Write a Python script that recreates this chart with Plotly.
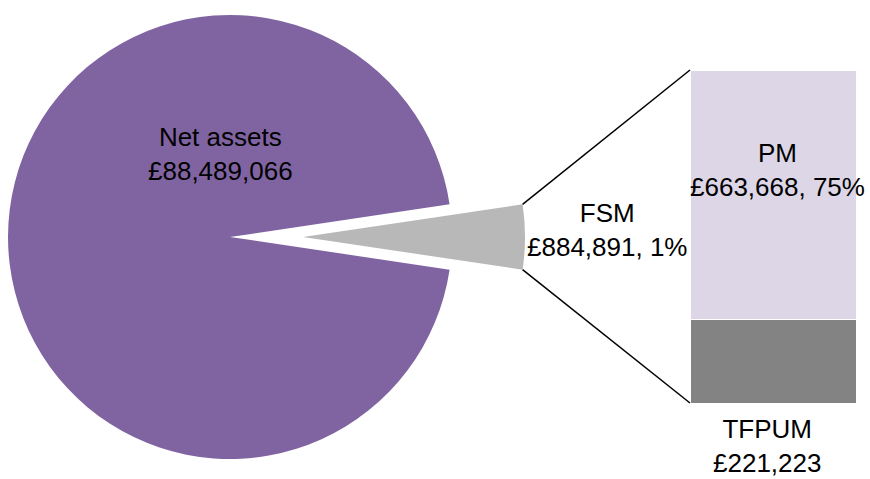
import math
import plotly.graph_objects as go

# ---- data ----
pie_labels = ["FSM", "Net assets"]
pie_values = [884891, 88489066]          # values shown in labels
pie_drawn_share = [4.7, 95.3]            # slice sizes as drawn in the picture (%)
fsm_pct_label = "1%"
bar_labels = ["TFPUM", "PM"]
bar_values = [221223, 663668]
bar_pct_labels = ["", "75%"]

# ---- layout constants ----
W, H = 870, 479
CX, CY, R = 230, 237, 222
EXPLODE = 73
FONT = dict(family="Liberation Sans, Arial, sans-serif", size=26, color="#000000")
PURPLE = "#8064A2"
SLICE_GREY = "#B8B8B8"
LAVENDER = "#DCD6E7"
DARK_GREY = "#838383"

def px_dom(cx, cy, r):
    return dict(x=[(cx - r) / W, (cx + r) / W],
                y=[(H - cy - r) / H, (H - cy + r) / H])

f = pie_drawn_share[0] / sum(pie_drawn_share)
rotation = 90 - 180 * f
transparent = "rgba(0,0,0,0)"

fig = go.Figure()
# main pie (net assets), FSM slice left empty
fig.add_trace(go.Pie(labels=pie_labels, values=pie_drawn_share, sort=False,
                     direction="clockwise", rotation=rotation,
                     marker=dict(colors=[transparent, PURPLE], line=dict(width=0)),
                     textinfo="none", hoverinfo="skip", showlegend=False,
                     domain=px_dom(CX, CY, R)))
# exploded FSM slice
fig.add_trace(go.Pie(labels=pie_labels, values=pie_drawn_share, sort=False,
                     direction="clockwise", rotation=rotation,
                     marker=dict(colors=[SLICE_GREY, transparent], line=dict(width=0)),
                     textinfo="none", hoverinfo="skip", showlegend=False,
                     domain=px_dom(CX + EXPLODE, CY, R)))

# stacked bar
bar_colors = [DARK_GREY, LAVENDER]
for lab, val, col in zip(bar_labels, bar_values, bar_colors):
    fig.add_trace(go.Bar(x=[0], y=[val], name=lab, width=1,
                         marker=dict(color=col, line=dict(color="white", width=1)),
                         hoverinfo="skip", showlegend=False))

BAR_LEFT, BAR_RIGHT, BAR_TOP, BAR_BOTTOM = 690, 856, 70, 403
total = sum(bar_values)
fig.update_layout(
    width=W, height=H, margin=dict(l=0, r=0, t=0, b=0),
    paper_bgcolor="white", plot_bgcolor="rgba(0,0,0,0)",
    barmode="stack", font=FONT,
    xaxis=dict(domain=[BAR_LEFT / W, BAR_RIGHT / W], range=[-0.5, 0.5],
               visible=False, fixedrange=True),
    yaxis=dict(domain=[(H - BAR_BOTTOM) / H, (H - BAR_TOP) / H], range=[0, total],
               visible=False, fixedrange=True),
)

# connector lines from slice corners to bar corners
half = math.pi * f
sx = CX + EXPLODE + R * math.cos(half)
sy_top = CY - R * math.sin(half)
sy_bot = CY + R * math.sin(half)
for sy, by in [(sy_top, BAR_TOP), (sy_bot, BAR_BOTTOM)]:
    fig.add_shape(type="line", xref="paper", yref="paper",
                  x0=sx / W, y0=(H - sy) / H, x1=BAR_LEFT / W, y1=(H - by) / H,
                  line=dict(color="black", width=1.5))

def money(v):
    return "£{:,}".format(v)

annots = [
    (220, 154, f"{pie_labels[1]}<br>{money(pie_values[1])}"),
    (607, 230, f"{pie_labels[0]}<br>{money(pie_values[0])}, {fsm_pct_label}"),
    (777, 170, f"{bar_labels[1]}<br>{money(bar_values[1])}, {bar_pct_labels[1]}"),
    (767, 446, f"{bar_labels[0]}<br>{money(bar_values[0])}"),
]
for x, y, t in annots:
    fig.add_annotation(x=x / W, y=(H - y) / H, xref="paper", yref="paper",
                       text=t, showarrow=False, xanchor="center", yanchor="middle",
                       borderpad=0, font=FONT)

fig.write_html("out.html")
